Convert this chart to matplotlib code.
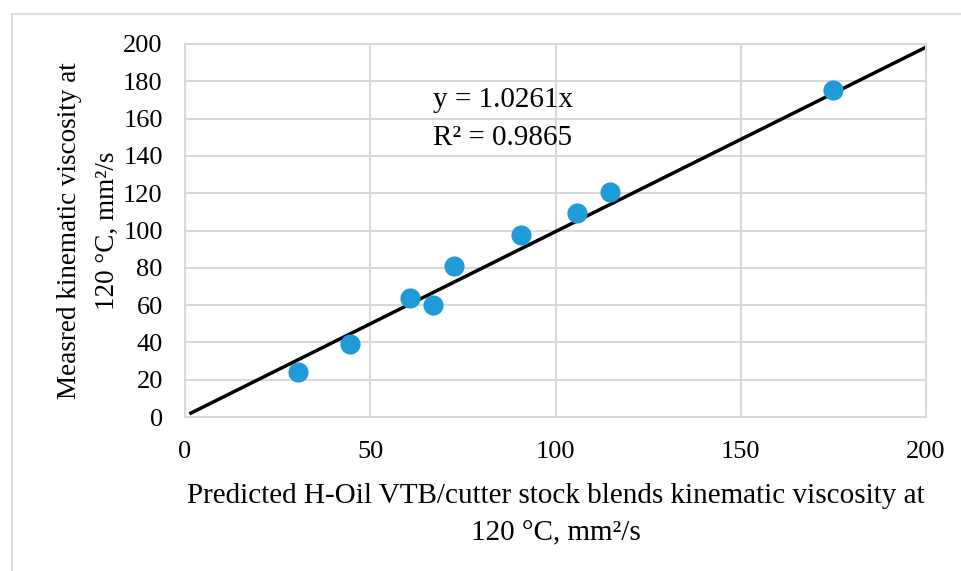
import numpy as np
import matplotlib
matplotlib.use('Agg')
import matplotlib.pyplot as plt
from matplotlib.patches import Rectangle

# values
predicted = [30.5, 44.6, 60.8, 67.0, 72.7, 90.8, 105.9, 114.6, 174.9]
measured = [24.1, 39.1, 63.8, 60.1, 81.0, 97.6, 109.4, 120.6, 175.3]
trend_x = [1.6, 199.5]
trend_y = [2.1, 197.8]
x_ticks = [0, 50, 100, 150, 200]
y_ticks = list(range(0, 201, 20))
equation = 'y = 1.0261x'
r_squared = 'R² = 0.9865'

plt.rcParams['font.family'] = ['Liberation Serif', 'DejaVu Serif']

fig = plt.figure(figsize=(9.62, 5.71), dpi=100)
ax = fig.add_axes([185 / 962, 1 - 417 / 571, 741 / 962, 373 / 571])

# light frame round the whole chart
fig.patches.append(Rectangle((12 / 962, -0.1), 1.2, 1 - 14 / 571 + 0.1,
                             transform=fig.transFigure, fill=False,
                             edgecolor='#d9d9d9', linewidth=1.2))

ax.plot(trend_x, trend_y, color='black', linewidth=2.5, zorder=2)
ax.plot(predicted, measured, 'o', color='#1f9bd7', markersize=14.5,
        markeredgewidth=0, zorder=3)

ax.set_xlim(0, 200)
ax.set_ylim(0, 200)
ax.set_xticks(x_ticks)
ax.set_yticks(y_ticks)
ax.grid(True, color='#d9d9d9', linewidth=1.5, zorder=0)
ax.set_axisbelow(True)
for s in ax.spines.values():
    s.set_color('#d9d9d9')
    s.set_linewidth(1.5)
ax.tick_params(length=0, labelsize=19, pad=16)
ax.tick_params(axis='x', pad=17)

ax.text(67, 170, equation, fontsize=21, va='center')
ax.text(67, 149.5, r_squared, fontsize=21, va='center')

ax.set_xlabel('Predicted H-Oil VTB/cutter stock blends kinematic viscosity at\n'
              '120 °C, mm²/s', fontsize=21, linespacing=1.53, labelpad=15)
ax.set_ylabel('Measred kinematic viscosity at\n120 °C, mm²/s',
              fontsize=19.5, linespacing=1.7, labelpad=2)

fig.savefig('out.png', dpi=100)
